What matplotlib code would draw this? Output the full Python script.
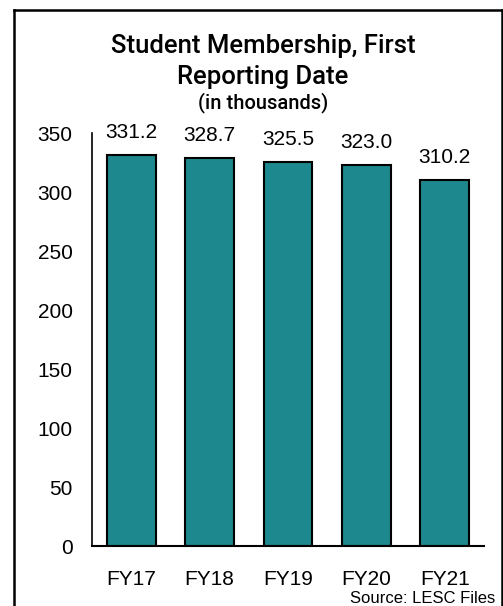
import matplotlib
matplotlib.use("Agg")
import matplotlib.pyplot as plt
from matplotlib.lines import Line2D

years = ["FY17", "FY18", "FY19", "FY20", "FY21"]
members = [331.2, 328.7, 325.5, 323.0, 310.2]
yticks = [0, 50, 100, 150, 200, 250, 300, 350]

plt.rcParams['font.family'] = ['Liberation Sans', 'DejaVu Sans']

fig = plt.figure(figsize=(5.03, 6.06), dpi=100)
ax = fig.add_axes([0.183, 0.099, 0.779, 0.6815])

x = range(len(years))
bars = ax.bar(x, members, width=0.62, color="#1E888F", edgecolor="black", linewidth=1.5)
for b, v in zip(bars, members):
    ax.annotate(f"{v:.1f}", (b.get_x() + b.get_width() / 2, v), xytext=(0, 16),
                textcoords="offset points", ha="center", va="center", fontsize=15)

ax.set_xlim(-0.5, len(years) - 0.5)
ax.set_ylim(0, 350)
ax.set_xticks(list(x))
ax.set_xticklabels(years)
ax.set_yticks(yticks)
ax.tick_params(axis="both", length=0, labelsize=15)
ax.tick_params(axis="y", pad=14)
ax.tick_params(axis="x", pad=17)
for s in ["top", "right"]:
    ax.spines[s].set_visible(False)
ax.spines["left"].set_linewidth(1.2)
ax.spines["bottom"].set_linewidth(1.5)

# titles
fig.text(0.523, 0.924, "Student Membership, First", ha="center", va="center",
         fontsize=18.5, family="Roboto", fontweight="medium")
fig.text(0.523, 0.873, "Reporting Date", ha="center", va="center",
         fontsize=18.5, family="Roboto", fontweight="medium")
fig.text(0.523, 0.830, "(in thousands)", ha="center", va="center",
         fontsize=14.5, family="Roboto", fontweight="medium")
fig.text(0.984, 0.012, "Source: LESC Files", ha="right", va="center", fontsize=12)

# frame around the chart (bottom edge falls outside the image)
frame = dict(color="black", linewidth=1.8, transform=fig.transFigure)
fig.add_artist(Line2D([0.028, 0.028], [0.0, 0.984], **frame))
fig.add_artist(Line2D([0.028, 0.998], [0.984, 0.984], **frame))
fig.add_artist(Line2D([0.998, 0.998], [0.0, 0.984], **frame))

fig.savefig("out.png", dpi=100)
